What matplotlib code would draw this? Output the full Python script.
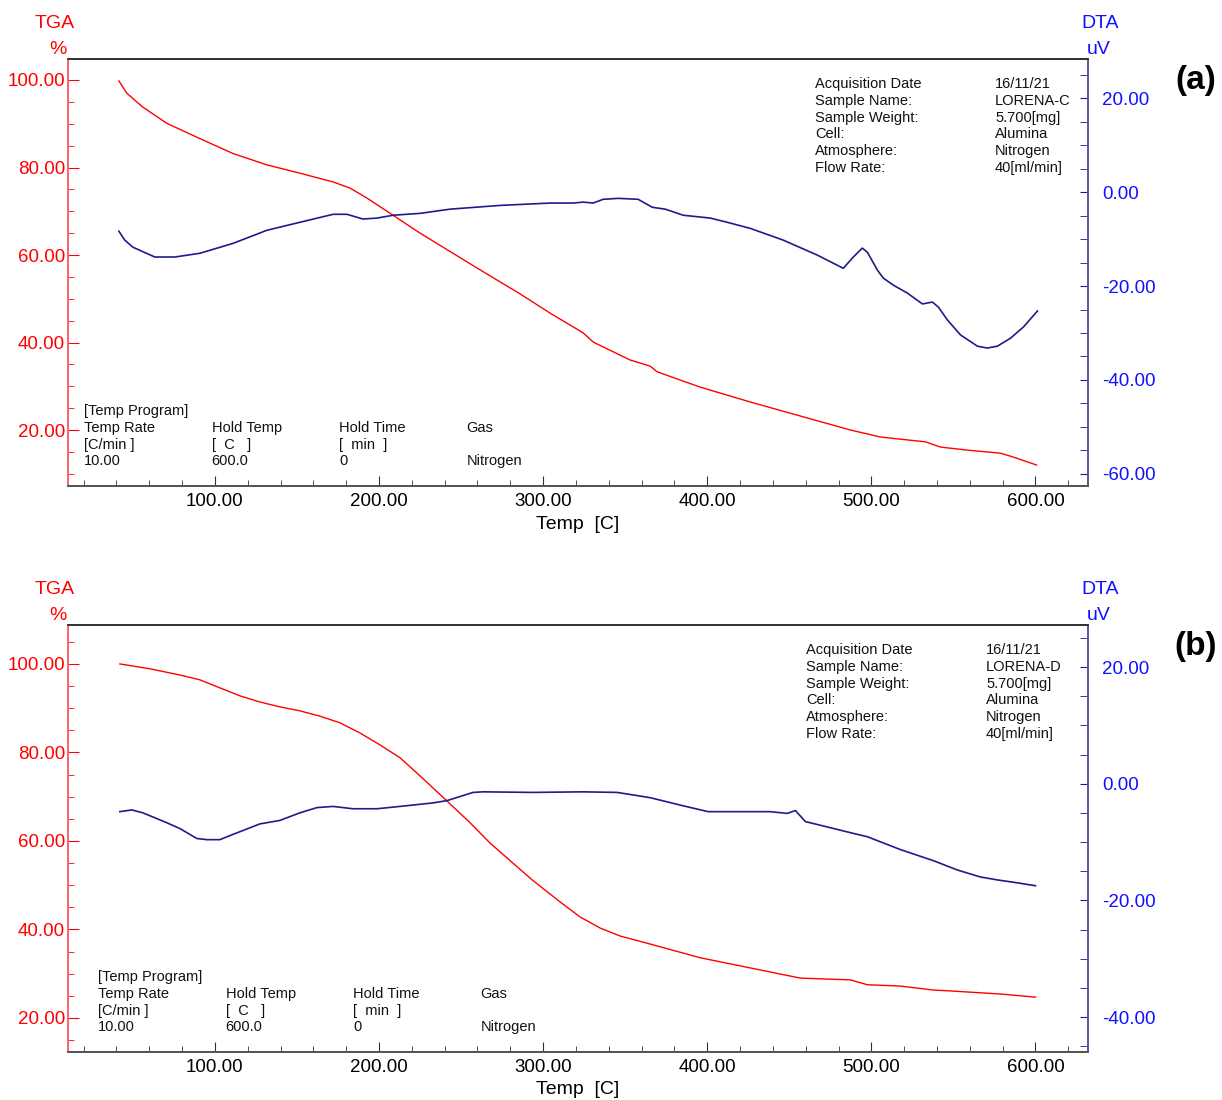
import matplotlib.pyplot as plt
from matplotlib.ticker import MultipleLocator, FormatStrFormatter

plt.rcParams['font.family'] = ['Liberation Sans', 'DejaVu Sans']

# ---- panel (a) : LORENA-C ----
temp_a_tga = [41.5, 46.3, 56.1, 70.7, 90.9, 111.0, 131.7, 151.8, 172.0, 182.3, 192.7,
              208.5, 225.0, 261.6, 286.0, 304.3, 324.4, 330.5, 353.0, 365.2, 369.5,
              395.7, 426.2, 456.7, 487.2, 505.5, 517.7, 532.9, 542.1, 558.5, 578.7,
              586.6, 600.6]
tga_a = [99.8, 97.0, 93.8, 90.1, 86.6, 83.2, 80.6, 78.7, 76.7, 75.3, 73.0,
         69.1, 65.0, 56.6, 51.1, 46.7, 42.2, 40.1, 36.0, 34.6, 33.3,
         29.8, 26.4, 23.2, 20.0, 18.4, 17.9, 17.3, 16.1, 15.4, 14.7,
         13.8, 12.0]

temp_a_dta = [41.5, 45.1, 50.0, 63.4, 75.6, 90.9, 111.0, 131.7, 151.8, 172.0, 180.5,
              190.2, 198.8, 208.5, 225.0, 243.3, 273.8, 304.3, 318.3, 324.4, 330.5,
              336.6, 345.7, 357.9, 366.5, 374.4, 385.4, 401.8, 412.2, 426.2, 446.3,
              467.1, 482.9, 489.0, 494.5, 497.6, 503.7, 507.3, 513.4, 522.0, 531.1,
              537.2, 540.9, 546.3, 554.3, 564.6, 570.7, 576.8, 584.8, 592.7, 601.2]
dta_a = [-8.3, -10.2, -11.7, -13.8, -13.8, -13.0, -10.9, -8.1, -6.4, -4.7, -4.7,
         -5.7, -5.5, -4.9, -4.5, -3.6, -2.8, -2.3, -2.3, -2.1, -2.3,
         -1.5, -1.3, -1.5, -3.2, -3.6, -4.9, -5.5, -6.4, -7.7, -10.2,
         -13.4, -16.2, -13.8, -11.9, -12.8, -16.6, -18.3, -19.8, -21.5, -23.8,
         -23.4, -24.5, -27.2, -30.4, -32.8, -33.2, -32.8, -31.1, -28.7, -25.3]

# ---- panel (b) : LORENA-D ----
temp_b_tga = [42.1, 60.4, 78.7, 90.9, 103.0, 115.2, 127.4, 139.6, 151.8, 164.0, 176.2,
              188.4, 200.6, 212.8, 225.0, 241.5, 255.5, 267.7, 293.3, 310.4, 322.6,
              334.8, 347.0, 365.2, 395.7, 426.2, 456.7, 487.2, 497.6, 517.7, 537.8,
              548.2, 578.7, 600.0]
tga_b = [100.0, 98.9, 97.5, 96.4, 94.6, 92.8, 91.4, 90.3, 89.4, 88.2, 86.7,
         84.4, 81.7, 78.8, 74.7, 69.0, 64.1, 59.5, 51.2, 46.2, 42.8,
         40.3, 38.5, 36.7, 33.6, 31.3, 29.0, 28.6, 27.5, 27.2, 26.3,
         26.1, 25.4, 24.7]

temp_b_dta = [42.1, 49.4, 56.1, 70.7, 78.7, 89.0, 95.1, 103.0, 111.0, 127.4, 139.6,
              151.8, 162.2, 172.0, 184.1, 198.8, 212.8, 232.9, 241.5, 257.3, 263.4,
              293.9, 324.4, 345.1, 365.2, 385.4, 400.6, 438.4, 448.8, 453.7, 459.8,
              467.1, 487.2, 497.6, 517.7, 537.8, 552.4, 566.5, 576.8, 589.0, 600.0]
dta_b = [-4.8, -4.5, -5.0, -6.7, -7.7, -9.4, -9.6, -9.6, -8.7, -6.9, -6.3,
         -5.0, -4.1, -3.9, -4.3, -4.3, -3.9, -3.3, -2.9, -1.5, -1.4,
         -1.5, -1.4, -1.5, -2.4, -3.8, -4.8, -4.8, -5.1, -4.6, -6.5,
         -7.0, -8.4, -9.1, -11.3, -13.2, -14.8, -16.0, -16.5, -17.0, -17.5]

info_keys = ["Acquisition Date", "Sample Name:", "Sample Weight:", "Cell:",
             "Atmosphere:", "Flow Rate:"]
info_vals_a = ["16/11/21", "LORENA-C", "5.700[mg]", "Alumina", "Nitrogen", "40[ml/min]"]
info_vals_b = ["16/11/21", "LORENA-D", "5.700[mg]", "Alumina", "Nitrogen", "40[ml/min]"]
prog_cols = [["Temp Rate", "[C/min ]", "10.00"],
             ["Hold Temp", "[  C   ]", "600.0"],
             ["Hold Time", "[  min  ]", "0"],
             ["Gas", "", "Nitrogen"]]

W, H = 1222, 1100
fig = plt.figure(figsize=(W / 100, H / 100), dpi=100)

RED = '#ff0000'
BLUE = '#1010ff'
NAVY = '#1c1c8a'


def px(x, y):
    return x / W, 1 - y / H


def ftext(x, y, s, **kw):
    fx, fy = px(x, y)
    fig.text(fx, fy, s, va='center', **kw)


def panel(top, bottom, temp_t, tga, temp_d, dta, tga_lim, dta_lim, dta_ticks,
          vals, label, ix, px_off):
    x0, y0 = px(68, bottom)
    ax = fig.add_axes([x0, y0, (1088 - 68) / W, (bottom - top) / H])
    ax2 = ax.twinx()

    ax.plot(temp_t, tga, color=RED, lw=1.0)
    ax2.plot(temp_d, dta, color=NAVY, lw=1.2)

    ax.set_xlim(10.5, 632)
    ax.set_ylim(*tga_lim)
    ax2.set_ylim(*dta_lim)

    ax.xaxis.set_major_locator(MultipleLocator(100))
    ax.xaxis.set_minor_locator(MultipleLocator(20))
    ax.yaxis.set_major_locator(MultipleLocator(20))
    ax.yaxis.set_minor_locator(MultipleLocator(5))
    ax2.set_yticks(dta_ticks)
    ax2.yaxis.set_minor_locator(MultipleLocator(5))
    for a in (ax.xaxis, ax.yaxis, ax2.yaxis):
        a.set_major_formatter(FormatStrFormatter('%.2f'))
    ax.set_xticks([100, 200, 300, 400, 500, 600])

    ax.tick_params(axis='x', which='both', direction='in', colors='#333333',
                   labelcolor='black', labelsize=13.5, pad=5)
    ax.tick_params(axis='x', which='major', length=7)
    ax.tick_params(axis='x', which='minor', length=4)
    ax.tick_params(axis='y', which='both', direction='in', colors=RED,
                   labelcolor=RED, labelsize=13.5, pad=2)
    ax.tick_params(axis='y', which='major', length=8)
    ax.tick_params(axis='y', which='minor', length=4)
    ax2.tick_params(axis='y', which='both', direction='in', colors=NAVY,
                    labelcolor=BLUE, labelsize=13.5, pad=10)
    ax2.tick_params(axis='y', which='major', length=6)
    ax2.tick_params(axis='y', which='minor', length=6)

    for a in (ax, ax2):
        a.spines['left'].set_color('#ff6666')
        a.spines['right'].set_color('#5a5aaa')
        a.spines['top'].set_color('#333333')
        a.spines['bottom'].set_color('#555555')
        for s in a.spines.values():
            s.set_linewidth(1.3)

    ax.set_xlabel("Temp  [C]", fontsize=14, labelpad=4)

    # axis headers
    ftext(55, top - 35, "TGA", color=RED, fontsize=14, ha='center')
    ftext(58, top - 10, "%", color=RED, fontsize=14, ha='center')
    ftext(1100, top - 35, "DTA", color=BLUE, fontsize=14, ha='center')
    ftext(1099, top - 10, "uV", color=BLUE, fontsize=14, ha='center')
    ftext(1196, top + 21, label, fontsize=24, fontweight='bold', ha='center')

    # sample info
    for i, (k, v) in enumerate(zip(info_keys, vals)):
        ftext(ix, top + 25 + i * 16.8, k, fontsize=10.5, color='#111111')
        ftext(ix + 180, top + 25 + i * 16.8, v, fontsize=10.5, color='#111111')

    # temperature program
    ftext(px_off, bottom - 75, "[Temp Program]", fontsize=10.5, color='#111111')
    for j, col in enumerate(prog_cols):
        for i, s in enumerate(col):
            ftext(px_off + j * 127.5, bottom - 58 + i * 16.7, s, fontsize=10.5,
                  color='#111111')


panel(59, 486, temp_a_tga, tga_a, temp_a_dta, dta_a, (7.2, 104.8), (-62.6, 28.4),
      [20, 0, -20, -40, -60], info_vals_a, "(a)", 815, 84)
panel(625, 1052, temp_b_tga, tga_b, temp_b_dta, dta_b, (12.3, 108.8), (-46.0, 27.2),
      [20, 0, -20, -40], info_vals_b, "(b)", 806, 98)

fig.savefig("out.png", dpi=100)
